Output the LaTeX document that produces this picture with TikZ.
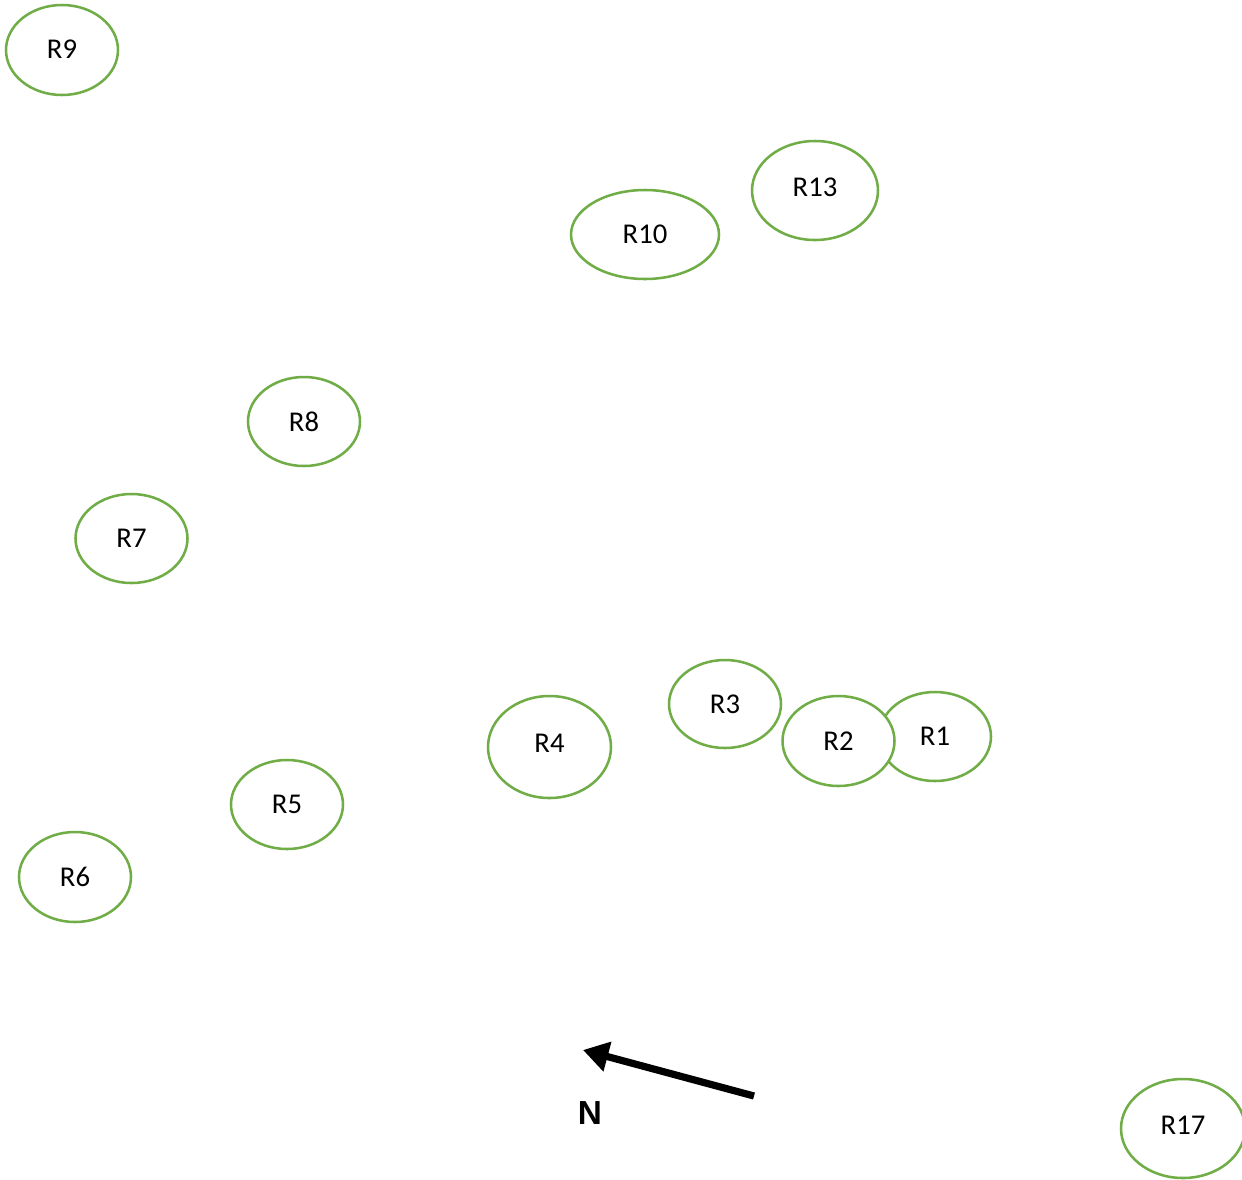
\documentclass[tikz,border=0pt]{standalone}
\usepackage{fontspec}
\setmainfont{Carlito}
\newfontfamily\arrowfont{Liberation Sans}
\usetikzlibrary{shapes.geometric,arrows.meta}
\definecolor{ringgreen}{RGB}{112,173,71}
\begin{document}
\begin{tikzpicture}
    [
        x=0.75pt, y=-0.75pt,
        ring/.style={ellipse, draw=ringgreen, line width=1.9pt, fill=white,
            inner sep=0pt, minimum width=112*0.75pt, minimum height=89*0.75pt,
            font=\fontsize{21.5}{25}\selectfont},
        northarrow/.style={line width=5.4pt, -{Triangle[length=19pt, width=22pt]}},
    ]
    \useasboundingbox (0,0) rectangle (1242,1179);
    \node (r9) at (62,50) [ring, minimum height=90*0.75pt] {\raisebox{1pt}{R9}};
    \node (r13) at (815,190.5) [ring, minimum width=126*0.75pt, minimum height=99*0.75pt] {\raisebox{4.5pt}{R13}};
    \node (r10) at (645,234.5) [ring, minimum width=148*0.75pt] {R10};
    \node (r8) at (304,421.5) [ring] {R8};
    \node (r7) at (131.5,538.5) [ring] {R7};
    \node (r3) at (725,704) [ring, minimum height=88*0.75pt] {R3};
    \node (r1) at (935,736.5) [ring] {R1};
    \node (r2) at (838.5,741) [ring, minimum height=90*0.75pt] {R2};
    \node (r4) at (549.5,747) [ring, minimum width=123*0.75pt, minimum height=102*0.75pt] {\raisebox{6pt}{R4}};
    \node (r5) at (287,804.5) [ring] {R5};
    \node (r6) at (75,877) [ring, minimum height=90*0.75pt] {R6};
    \node (r17) at (1183,1128.5) [ring, minimum width=124*0.75pt, minimum height=99*0.75pt] {\raisebox{4.5pt}{R17}};
    % north arrow
    \coordinate (tail) at (754,1096);
    \coordinate (tip) at (583,1050);
    \draw [northarrow] (tail) -- (tip);
    \node (nlabel) at (590,1113) [font=\arrowfont\bfseries\fontsize{25}{28}\selectfont] {N};
\end{tikzpicture}
\end{document}
